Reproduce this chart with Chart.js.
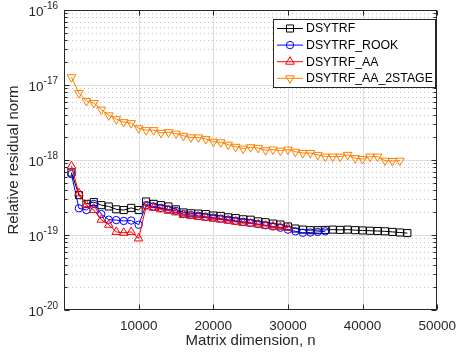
<!DOCTYPE html>
<html><head><meta charset="utf-8">
<script src="https://cdn.jsdelivr.net/npm/chart.js@4.4.1/dist/chart.umd.min.js"></script>
<style>html,body{margin:0;padding:0;background:#fff}</style>
</head><body>
<canvas id="c" width="464" height="356"></canvas>
<script>
// ---------------- data ----------------
const dims = [1000,2000,3000,4000,5000,6000,7000,8000,9000,10000,
  11000,12000,13000,14000,15000,16000,17000,18000,19000,20000,
  21000,22000,23000,24000,25000,26000,27000,28000,29000,30000,
  31000,32000,33000,34000,35000,36000,37000,38000,39000,40000,
  41000,42000,43000,44000,45000,46000];
const seriesNames = ['DSYTRF','DSYTRF_ROOK','DSYTRF_AA','DSYTRF_AA_2STAGE'];
const dsytrf = [6.8e-19,3.4e-19,2.6e-19,2.75e-19,2.5e-19,2.4e-19,2.2e-19,2.15e-19,2.3e-19,2.15e-19,
  2.8e-19,2.6e-19,2.5e-19,2.4e-19,2.2e-19,2.0e-19,1.95e-19,1.93e-19,1.9e-19,1.82e-19,
  1.8e-19,1.72e-19,1.68e-19,1.62e-19,1.6e-19,1.52e-19,1.48e-19,1.42e-19,1.38e-19,1.3e-19,
  1.22e-19,1.18e-19,1.16e-19,1.16e-19,1.17e-19,1.18e-19,1.17e-19,1.18e-19,1.16e-19,1.15e-19,
  1.14e-19,1.13e-19,1.12e-19,1.1e-19,1.08e-19,1.06e-19];
const dsytrfRook = [6.5e-19,2.27e-19,2.15e-19,2.6e-19,1.9e-19,1.6e-19,1.58e-19,1.54e-19,1.56e-19,1.37e-19,
  2.5e-19,2.4e-19,2.3e-19,2.2e-19,2.1e-19,1.9e-19,1.85e-19,1.8e-19,1.75e-19,1.7e-19,
  1.65e-19,1.6e-19,1.55e-19,1.5e-19,1.45e-19,1.4e-19,1.35e-19,1.3e-19,1.25e-19,1.18e-19,
  1.12e-19,1.07e-19,1.08e-19,1.1e-19,1.12e-19];
const dsytrfAA = [8.3e-19,3.6e-19,2.5e-19,2.15e-19,1.6e-19,1.37e-19,1.1e-19,1.07e-19,1.1e-19,9.0e-20,
  2.4e-19,2.3e-19,2.2e-19,2.1e-19,2.0e-19,1.85e-19,1.8e-19,1.75e-19,1.7e-19,1.65e-19,
  1.6e-19,1.55e-19,1.5e-19,1.45e-19,1.42e-19,1.38e-19,1.33e-19,1.3e-19,1.27e-19,1.25e-19];
const dsytrfAA2 = [1.27e-17,7.8e-18,6.1e-18,5.75e-18,4.7e-18,3.94e-18,3.5e-18,3.2e-18,3.1e-18,2.65e-18,
  2.5e-18,2.5e-18,2.3e-18,2.35e-18,2.25e-18,2.1e-18,2.0e-18,2.0e-18,1.9e-18,1.75e-18,
  1.72e-18,1.6e-18,1.5e-18,1.42e-18,1.48e-18,1.45e-18,1.35e-18,1.38e-18,1.33e-18,1.38e-18,
  1.29e-18,1.24e-18,1.24e-18,1.17e-18,1.11e-18,1.11e-18,1.11e-18,1.17e-18,1.06e-18,1.03e-18,
  1.11e-18,1.11e-18,0.98e-18,0.97e-18,0.98e-18];
const xTicks = [10000,20000,30000,40000,50000];
const yDecadeExps = [-20,-19,-18,-17,-16];
const xTitle = 'Matrix dimension, n';
const yTitle = 'Relative residual norm';

// ---------------- styling ----------------
const FONT = '"Liberation Sans", Arial, Helvetica, sans-serif';
const AX = '#262626';
const colors = ['#000000','#0000ff','#ff0000','#ff8000'];
const styles = [
  {pointStyle:'rect', radius:5, rotation:0},
  {pointStyle:'circle', radius:3.7, rotation:0},
  {pointStyle:'triangle', radius:5, rotation:0},
  {pointStyle:'triangle', radius:5, rotation:180}
];
const allSeries = [dsytrf, dsytrfRook, dsytrfAA, dsytrfAA2];

function pts(vals){ return vals.map((v,i)=>({x:dims[i], y:v})); }

const datasets = allSeries.map((vals,i)=>({
  label: seriesNames[i],
  data: pts(vals),
  borderColor: colors[i],
  backgroundColor: 'rgba(0,0,0,0)',
  pointBackgroundColor: 'rgba(0,0,0,0)',
  pointBorderColor: colors[i],
  pointBorderWidth: 1,
  borderWidth: 1,
  pointStyle: styles[i].pointStyle,
  pointRadius: styles[i].radius,
  pointRotation: styles[i].rotation,
  pointHoverRadius: styles[i].radius,
  tension: 0,
  order: 3 - i,
  clip: 8
}));

function line(ctx,x1,y1,x2,y2){ ctx.beginPath(); ctx.moveTo(x1,y1); ctx.lineTo(x2,y2); ctx.stroke(); }

function drawMarker(ctx, st, x, y, color){
  ctx.save();
  ctx.strokeStyle = color; ctx.lineWidth = 1;
  ctx.beginPath();
  const r = st.radius;
  if (st.pointStyle === 'rect'){
    const s = Math.SQRT1_2 * r; ctx.rect(x-s, y-s, 2*s, 2*s);
  } else if (st.pointStyle === 'circle'){
    ctx.arc(x, y, r, 0, Math.PI*2);
  } else {
    let rad = st.rotation*Math.PI/180;
    ctx.moveTo(x + Math.sin(rad)*r, y - Math.cos(rad)*r);
    rad += 2*Math.PI/3; ctx.lineTo(x + Math.sin(rad)*r, y - Math.cos(rad)*r);
    rad += 2*Math.PI/3; ctx.lineTo(x + Math.sin(rad)*r, y - Math.cos(rad)*r);
    ctx.closePath();
  }
  ctx.stroke();
  ctx.restore();
}

const matlabPlugin = {
  id: 'matlab',
  beforeDraw(chart){
    const {ctx, width, height} = chart;
    ctx.save(); ctx.fillStyle = '#fff'; ctx.fillRect(0,0,width,height); ctx.restore();
  },
  beforeDatasetsDraw(chart){
    const {ctx, chartArea:a, scales:{x, y}} = chart;
    ctx.save();
    ctx.lineWidth = 1;
    // minor y grid (dotted)
    ctx.strokeStyle = '#c4c4c4';
    ctx.setLineDash([1,3]);
    for (const k of yDecadeExps.slice(0,-1)){
      for (let m=2; m<=9; m++){
        const py = Math.round(y.getPixelForValue(m*Math.pow(10,k))) + 0.5;
        line(ctx, a.left, py, a.right, py);
      }
    }
    ctx.setLineDash([]);
    // major grid
    ctx.strokeStyle = '#dedede';
    for (const k of yDecadeExps){
      const py = Math.round(y.getPixelForValue(Math.pow(10,k))) + 0.5;
      if (py > a.top+1 && py < a.bottom-1) line(ctx, a.left, py, a.right, py);
    }
    for (const t of xTicks){
      const px = Math.round(x.getPixelForValue(t)) + 0.5;
      if (px > a.left+1 && px < a.right-1) line(ctx, px, a.top, px, a.bottom);
    }
    ctx.restore();
  },
  afterDatasetsDraw(chart){
    const {ctx, chartArea:a, scales:{x, y}} = chart;
    ctx.save();
    ctx.strokeStyle = AX; ctx.lineWidth = 1;
    const L = Math.round(a.left)+0.5, R = Math.round(a.right)-0.5, T = Math.round(a.top)+0.5, B = Math.round(a.bottom)-0.5;
    // ticks (inward)
    for (const k of yDecadeExps){
      for (let m=1; m<=9; m++){
        if (k === yDecadeExps[yDecadeExps.length-1] && m>1) break;
        const py = Math.round(y.getPixelForValue(m*Math.pow(10,k))) + 0.5;
        const len = m===1 ? 5 : 3;
        line(ctx, L, py, L+len, py);
        line(ctx, R, py, R-len, py);
      }
    }
    for (const t of xTicks){
      const px = Math.round(x.getPixelForValue(t)) + 0.5;
      line(ctx, px, B, px, B-5);
      line(ctx, px, T, px, T+5);
    }
    // box
    ctx.strokeRect(L, T, R-L, B-T);
    // y tick labels 10^k
    ctx.fillStyle = AX;
    ctx.textBaseline = 'middle';
    for (const k of yDecadeExps){
      const py = y.getPixelForValue(Math.pow(10,k));
      const exp = String(k);
      ctx.font = '10px ' + FONT;
      const ew = ctx.measureText(exp).width;
      const xr = a.left - 6;
      ctx.textAlign = 'left';
      ctx.fillText(exp, xr - ew, py - 3.5);
      ctx.font = '13.5px ' + FONT;
      ctx.textAlign = 'right';
      ctx.fillText('10', xr - ew, py + 2.5);
    }
    // y title
    ctx.save();
    ctx.translate(14, (a.top + a.bottom)/2);
    ctx.rotate(-Math.PI/2);
    ctx.font = '15px ' + FONT;
    ctx.textAlign = 'center'; ctx.textBaseline = 'middle';
    ctx.fillText(yTitle, 0, 0);
    ctx.restore();
    // legend
    const lx = 273.5, ly = 19.5, lw = 162, lh = 68;
    ctx.fillStyle = '#fff';
    ctx.fillRect(lx, ly, lw, lh);
    ctx.strokeStyle = AX; ctx.lineWidth = 1;
    ctx.strokeRect(lx, ly, lw, lh);
    ctx.font = '12.3px ' + FONT;
    ctx.textAlign = 'left'; ctx.textBaseline = 'middle';
    seriesNames.forEach((name, i) => {
      const cy = 28.5 + i*16.6;
      ctx.strokeStyle = colors[i]; ctx.lineWidth = 1;
      line(ctx, 277, cy, 303, cy);
      drawMarker(ctx, styles[i], 290, cy, colors[i]);
      ctx.fillStyle = '#000';
      ctx.fillText(name, 306, cy + 0.5);
    });
    ctx.restore();
  }
};

new Chart(document.getElementById('c'), {
  type: 'line',
  data: { datasets },
  plugins: [matlabPlugin],
  options: {
    responsive: false,
    animation: false,
    devicePixelRatio: 1,
    layout: { padding: { left: 0, right: 20, top: 10, bottom: 0 } },
    plugins: { legend: { display: false }, tooltip: { enabled: false } },
    scales: {
      x: {
        type: 'linear', min: 0, max: 50000,
        afterFit: s => { s.height = 46; },
        afterBuildTicks: s => { s.ticks = xTicks.map(v => ({value: v})); },
        grid: { display: false, drawTicks: false },
        border: { display: false },
        ticks: {
          color: AX, padding: 8, maxRotation: 0, autoSkip: false,
          font: { family: FONT, size: 13.5 },
          callback: v => String(v)
        },
        title: {
          display: true, text: xTitle, color: AX,
          font: { family: FONT, size: 15 },
          padding: { top: 0, bottom: 6 }
        }
      },
      y: {
        type: 'logarithmic', min: 1e-20, max: 1e-16,
        afterFit: s => { s.width = 64; },
        grid: { display: false, drawTicks: false },
        border: { display: false },
        ticks: { display: false }
      }
    }
  }
});
</script>
</body></html>
